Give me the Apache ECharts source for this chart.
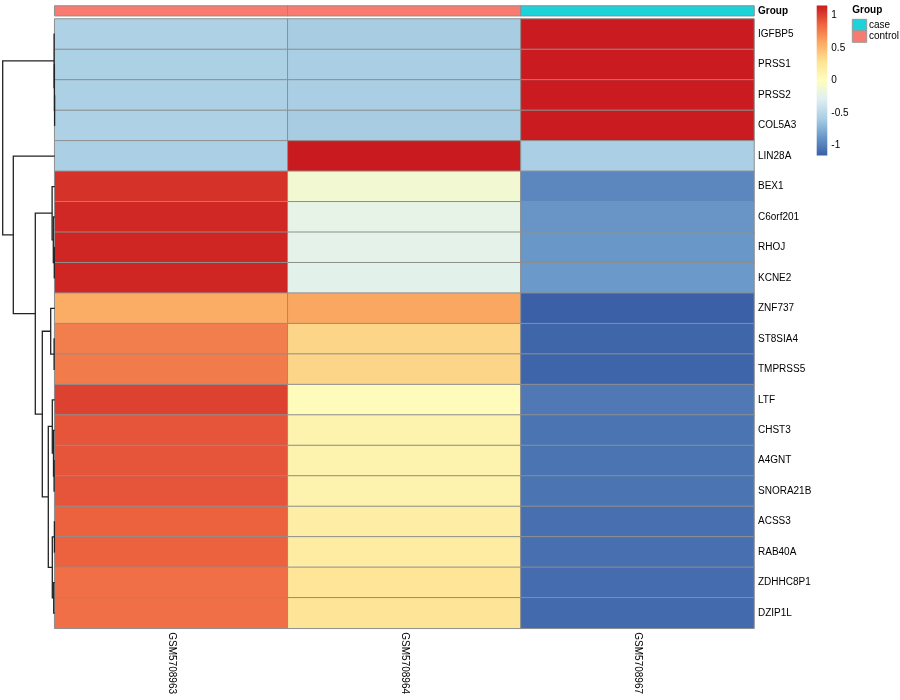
<!DOCTYPE html>
<html><head><meta charset="utf-8">
<script src="https://cdn.jsdelivr.net/npm/echarts@6/dist/echarts.min.js"></script>
<style>html,body{margin:0;padding:0;background:#fff}#c{width:900px;height:700px}</style>
</head><body><div id="c"></div>
<script>
// ---- data ----
const genes = ['IGFBP5','PRSS1','PRSS2','COL5A3','LIN28A','BEX1','C6orf201','RHOJ','KCNE2','ZNF737','ST8SIA4','TMPRSS5','LTF','CHST3','A4GNT','SNORA21B','ACSS3','RAB40A','ZDHHC8P1','DZIP1L'];
const samples = ['GSM5708963','GSM5708964','GSM5708967'];
const sampleGroup = ['control','control','case'];
const groupNames = ['case','control'];
const groupColors = ['#1DD2D9','#F87B72'];
const zGSM5708963 = [-0.56,-0.57,-0.57,-0.56,-0.577,1.06,1.10,1.11,1.11,0.56,0.76,0.77,1.00,0.93,0.93,0.93,0.88,0.88,0.82,0.82];
const zGSM5708964 = [-0.59,-0.58,-0.58,-0.59,1.155,-0.11,-0.22,-0.24,-0.25,0.59,0.36,0.36,0.03,0.12,0.12,0.12,0.18,0.19,0.27,0.28];
const zGSM5708967 = [1.15,1.15,1.15,1.15,-0.577,-0.95,-0.88,-0.87,-0.86,-1.15,-1.12,-1.13,-1.03,-1.05,-1.05,-1.05,-1.07,-1.07,-1.09,-1.10];
// row dendrogram, hclust-style merges (negative = leaf row number, positive = earlier merge)
const treeLeft   = [-3,-2,-1,-8,-7,-6,-11,-10,-15,-14,-13,-17,-19,12,11, 8, 6,-5, 3];
const treeRight  = [-4, 1, 2,-9, 4, 5,-12,  7,-16,  9, 10,-18,-20,13,14,15,16,17,18];
const treeHeight = [0.1,0.3,0.6,0.4,1.4,2.6,0.6,4.0,0.6,1.2,2.4,0.3,1.0,2.4,6.4,12.4,19.4,41.4,52.0];
const legendTicks = [-1,-0.5,0,0.5,1];
const scaleMin = -1.155, scaleMax = 1.155;
const colorStops = ['#3A5FA6','#6A98C8','#ABCFE4','#DFEFF2','#FEFEBF','#FEE395','#FBAA63','#EE6440','#C91B1F'];

// ---- build ----
const FONT = "'Liberation Sans', Arial, sans-serif";
const cols = [zGSM5708963, zGSM5708964, zGSM5708967];
const heatData = [];
cols.forEach((col, ci) => col.forEach((v, ri) => heatData.push([ci, ri, v])));
const annoData = sampleGroup.map((g, i) => [i, 0, groupNames.indexOf(g)]);

// dendrogram segments
const nodeY = [], nodeH = [];
function childPos(c) { return c < 0 ? [-c - 1, 0] : [nodeY[c - 1], nodeH[c - 1]]; }
const dendroLines = [];
treeLeft.forEach((l, k) => {
  const a = childPos(l), b = childPos(treeRight[k]);
  const h = treeHeight[k];
  nodeY.push((a[0] + b[0]) / 2); nodeH.push(h);
  dendroLines.push({coords: [[a[1], a[0]], [h, a[0]], [h, b[0]], [b[1], b[0]]]});
});

const HL = 54.7, HT = 19, HW = 699.3, HH = 609.3;
const chart = echarts.init(document.getElementById('c'), null, {renderer: 'canvas'});
const hidden = {show: false};
chart.setOption({
  animation: false,
  backgroundColor: '#fff',
  textStyle: {fontFamily: FONT},
  grid: [
    {left: HL, top: HT, width: HW, height: HH},
    {left: HL, top: 6, width: HW, height: 9.7},
    {left: 0, top: HT, width: HL, height: HH},
    {left: 816.7, top: 5.4, width: 10.6, height: 150.2}
  ],
  xAxis: [
    {type: 'category', data: samples, gridIndex: 0, position: 'bottom', axisLine: hidden, axisTick: hidden, splitLine: hidden,
      axisLabel: {rotate: -90, margin: 4, fontSize: 10, color: '#000', fontFamily: FONT}},
    {type: 'category', data: samples, gridIndex: 1, show: false},
    {type: 'value', gridIndex: 2, min: 0, max: HL, inverse: true, show: false},
    {type: 'value', gridIndex: 3, min: 0, max: 1, show: false}
  ],
  yAxis: [
    {type: 'category', data: genes, gridIndex: 0, inverse: true, position: 'right', axisLine: hidden, axisTick: hidden, splitLine: hidden,
      axisLabel: {margin: 4, fontSize: 10, color: '#000', fontFamily: FONT}},
    {type: 'category', data: ['Group'], gridIndex: 1, position: 'right', axisLine: hidden, axisTick: hidden, splitLine: hidden,
      axisLabel: {margin: 4, fontSize: 10, fontWeight: 'bold', color: '#000', fontFamily: FONT}},
    {type: 'value', gridIndex: 2, min: -0.5, max: genes.length - 0.5, inverse: true, show: false},
    {type: 'value', gridIndex: 3, min: scaleMin, max: scaleMax, position: 'right', axisLine: hidden, axisTick: hidden, splitLine: hidden,
      axisLabel: {customValues: legendTicks, margin: 4, fontSize: 10, color: '#000', fontFamily: FONT,
        formatter: v => String(Math.round(v * 10) / 10)}}
  ],
  visualMap: [
    {type: 'continuous', show: false, min: scaleMin, max: scaleMax, dimension: 2, seriesIndex: 0, inRange: {color: colorStops}},
    {type: 'piecewise', show: false, dimension: 2, seriesIndex: 1,
      pieces: groupNames.map((g, i) => ({value: i, color: groupColors[i]}))}
  ],
  series: [
    {type: 'heatmap', xAxisIndex: 0, yAxisIndex: 0, data: heatData, itemStyle: {borderColor: '#8e8e8e', borderWidth: 1}, emphasis: {disabled: true}},
    {type: 'heatmap', xAxisIndex: 1, yAxisIndex: 1, data: annoData, itemStyle: {borderColor: '#8e8e8e', borderWidth: 1}, emphasis: {disabled: true}},
    {type: 'lines', coordinateSystem: 'cartesian2d', xAxisIndex: 2, yAxisIndex: 2, polyline: true, data: dendroLines,
      lineStyle: {color: '#222', width: 1.3, opacity: 1}, silent: true},
    {type: 'custom', xAxisIndex: 3, yAxisIndex: 3, data: [[0]], silent: true,
      renderItem: (params, api) => {
        const p0 = api.coord([0, scaleMax]), p1 = api.coord([1, scaleMin]);
        return {type: 'rect', shape: {x: p0[0], y: p0[1], width: p1[0] - p0[0], height: p1[1] - p0[1]},
          style: {fill: new echarts.graphic.LinearGradient(0, 1, 0, 0, colorStops.map((c, i) => ({offset: i / (colorStops.length - 1), color: c})))}};
      }}
  ],
  graphic: [
    {type: 'text', left: 852.3, top: 5, style: {text: 'Group', fontSize: 10, fontWeight: 'bold', fontFamily: FONT, fill: '#000'}},
    ...groupNames.map((g, i) => ({type: 'rect', shape: {x: 852.3, y: 19.3 + i * 11.5, width: 14.4, height: 11.5},
      style: {fill: groupColors[i], stroke: '#999', lineWidth: 1}})),
    ...groupNames.map((g, i) => ({type: 'text', x: 869, y: 25 + i * 11.5,
      style: {text: g, fontSize: 10, fontFamily: FONT, fill: '#000', verticalAlign: 'middle'}}))
  ]
});
</script></body></html>
